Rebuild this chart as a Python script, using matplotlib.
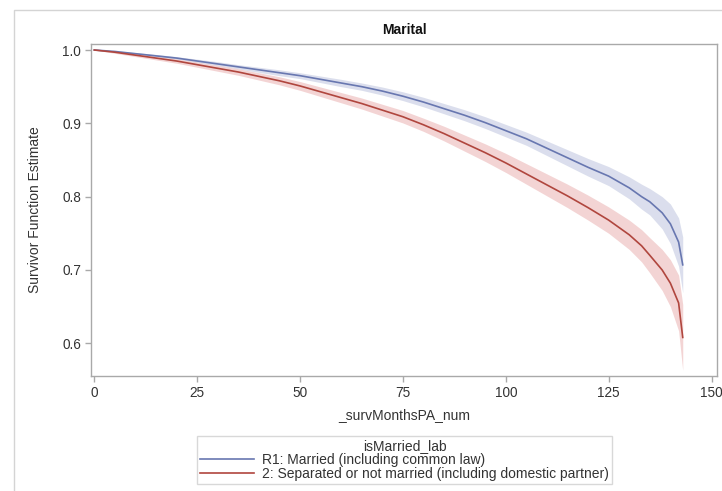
import matplotlib
matplotlib.use("Agg")
import matplotlib.pyplot as plt
from matplotlib.patches import Rectangle
from matplotlib.lines import Line2D
import numpy as np

plt.rcParams['font.family'] = ['Liberation Sans', 'DejaVu Sans']

months = [0, 5, 10, 15, 20, 25, 30, 35, 40, 45, 50, 55, 60, 65, 70, 75, 80, 85,
          90, 95, 100, 105, 110, 115, 120, 125, 130, 133, 135, 138, 140, 142, 143]

married = [1.000, 0.998, 0.995, 0.992, 0.989, 0.985, 0.981, 0.977, 0.973, 0.969,
           0.965, 0.960, 0.955, 0.950, 0.944, 0.937, 0.929, 0.920, 0.911, 0.901,
           0.890, 0.879, 0.866, 0.853, 0.840, 0.828, 0.812, 0.800, 0.793, 0.778,
           0.763, 0.738, 0.707]
married_hw = [0.0, 0.001, 0.0015, 0.002, 0.002, 0.0025, 0.003, 0.003, 0.0035, 0.004,
              0.004, 0.0045, 0.005, 0.005, 0.0055, 0.006, 0.0065, 0.007, 0.0075, 0.008,
              0.0085, 0.009, 0.010, 0.011, 0.012, 0.013, 0.015, 0.017, 0.018, 0.022,
              0.027, 0.033, 0.038]

separated = [1.000, 0.997, 0.993, 0.989, 0.985, 0.980, 0.975, 0.970, 0.964, 0.958,
             0.951, 0.943, 0.935, 0.927, 0.918, 0.909, 0.898, 0.886, 0.873, 0.860,
             0.846, 0.831, 0.816, 0.801, 0.785, 0.768, 0.748, 0.733, 0.720, 0.700,
             0.682, 0.655, 0.608]
separated_hw = [0.0, 0.0015, 0.002, 0.0025, 0.003, 0.0035, 0.004, 0.0045, 0.005, 0.0055,
                0.006, 0.0065, 0.007, 0.0075, 0.008, 0.0085, 0.009, 0.010, 0.011, 0.012,
                0.013, 0.014, 0.015, 0.016, 0.017, 0.018, 0.020, 0.022, 0.024, 0.028,
                0.032, 0.038, 0.045]

labels = ["R1: Married (including common law)",
          "2: Separated or not married (including domestic partner)"]
xticks = [0, 25, 50, 75, 100, 125, 150]
yticks = [0.6, 0.7, 0.8, 0.9, 1.0]

W, H = 722, 491
fig = plt.figure(figsize=(W / 100, H / 100), dpi=100)

def fx(px):
    return px / W

def fy(py):
    return 1 - py / H

# outer frame
fig.patches.append(Rectangle((fx(14), fy(600)), fx(800), fy(10) - fy(600),
                             transform=fig.transFigure, fill=False,
                             edgecolor='#d4d4d4', lw=1.0))

ax = fig.add_axes([fx(90.7), fy(376), fx(717.3) - fx(90.7), fy(44) - fy(376)])

blue_line = '#6877B0'
blue_band = '#D9DDEC'
red_line = '#B0463E'
red_band = '#F3D2D2'

m = np.array(married); mh = np.array(married_hw)
s = np.array(separated); sh = np.array(separated_hw)

ax.fill_between(months, m - mh, m + mh, color=blue_band, lw=0, alpha=0.95)
ax.fill_between(months, s - sh, s + sh, color=red_band, lw=0, alpha=0.95)
ax.plot(months, married, color=blue_line, lw=1.2)
ax.plot(months, separated, color=red_line, lw=1.2)

ax.set_xlim(-0.87, 151.4)
ax.set_ylim(0.5554, 1.0082)
ax.set_xticks(xticks)
ax.set_yticks(yticks)
ax.set_yticklabels([f"{v:.1f}" for v in yticks])

for sp in ax.spines.values():
    sp.set_color('#a9a9a9')
    sp.set_linewidth(1.0)
ax.tick_params(axis='both', colors='#a9a9a9', labelcolor='#333333',
               labelsize=9.8, length=4, width=1.0, pad=3)

fig.text(fx(404), fy(30), "Marital", ha='center', va='center',
         fontsize=10, fontweight='bold', color='#111111')
fig.text(fx(404), fy(415), "_survMonthsPA_num", ha='center', va='center',
         fontsize=10, color='#333333')
fig.text(fx(35), fy(210), "Survivor Function Estimate", ha='center', va='center',
         rotation=90, fontsize=10, color='#333333')

handles = [Line2D([], [], color=blue_line, lw=1.2),
           Line2D([], [], color=red_line, lw=1.2)]
leg = fig.legend(handles, labels, title="isMarried_lab",
                 loc='upper left', bbox_to_anchor=(fx(197), fy(436)),
                 bbox_transform=fig.transFigure,
                 fontsize=10, title_fontsize=10, frameon=True, fancybox=False,
                 handlelength=3.9, handletextpad=0.6, borderpad=0.2,
                 labelspacing=0.0, borderaxespad=0)
leg.get_frame().set_edgecolor('#cfcfcf')
leg.get_frame().set_linewidth(1.0)
leg.get_title().set_color('#333333')
for t in leg.get_texts():
    t.set_color('#333333')

fig.savefig("out.png", dpi=100)
